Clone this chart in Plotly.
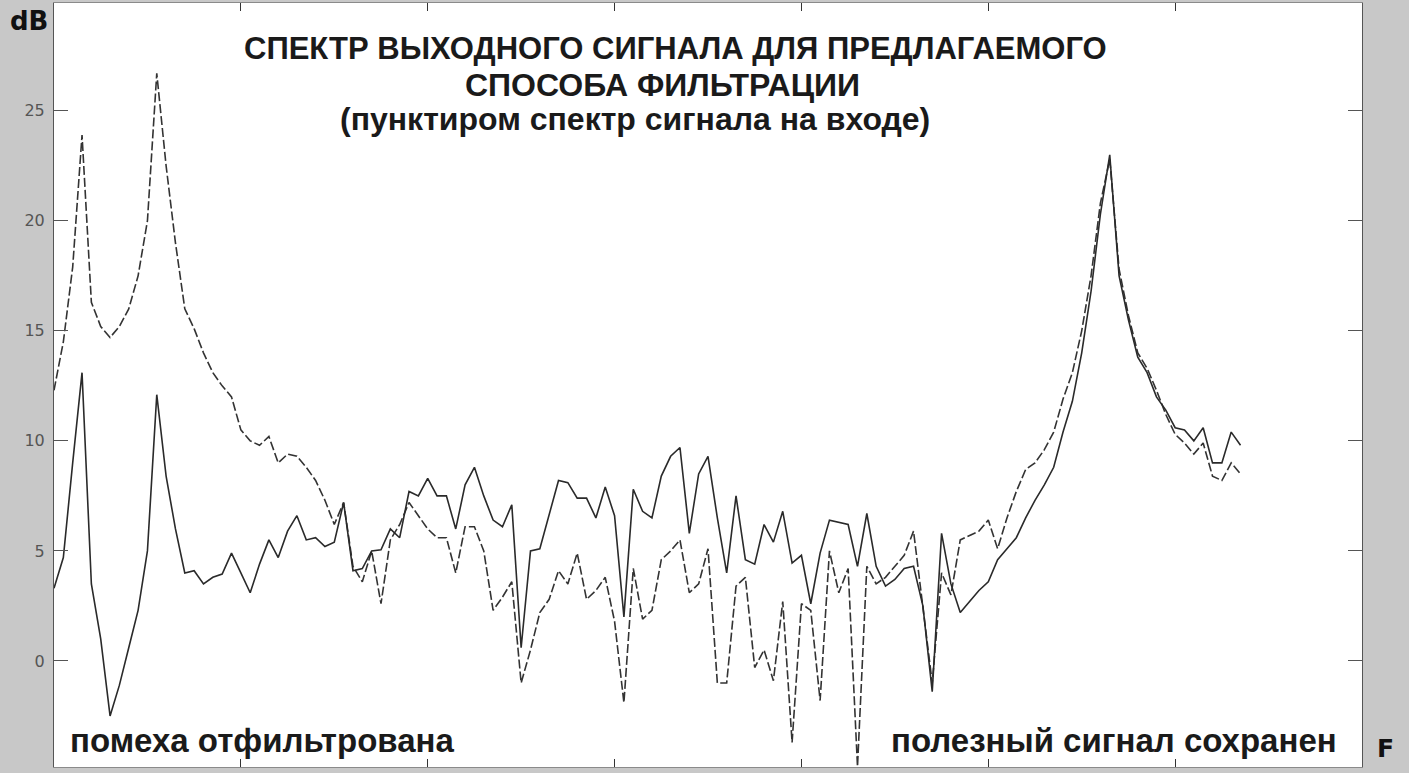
import plotly.graph_objects as go

# frequency bin index (spectrum samples)
freq_bin = list(range(128))

# output spectrum (solid), dB
out_db = [3.3, 4.7, 9.0, 13.1, 3.5, 1.0, -2.5, -1.1, 0.6, 2.3,
          5.0, 12.1, 8.4, 6.0, 4.0, 4.1, 3.5, 3.8, 3.95, 4.9,
          4.0, 3.1, 4.4, 5.5, 4.7, 5.9, 6.6, 5.5, 5.6, 5.2,
          5.4, 7.2, 4.1, 4.2, 5.0, 5.05, 6.0, 5.6, 7.7, 7.5,
          8.3, 7.5, 7.5, 6.0, 8.0, 8.8, 7.5, 6.4, 6.1, 7.1,
          0.6, 5.0, 5.1, 6.6, 8.2, 8.1, 7.4, 7.4, 6.5, 7.9,
          6.6, 2.0, 7.8, 6.8, 6.5, 8.4, 9.3, 9.7, 5.8, 8.5,
          9.3, 6.5, 4.0, 7.5, 4.6, 4.4, 6.2, 5.4, 6.8, 4.45,
          4.8, 2.6, 4.9, 6.4, 6.3, 6.2, 4.3, 6.7, 4.3, 3.4,
          3.7, 4.2, 4.3, 2.5, -1.4, 5.8, 3.5, 2.2, 2.7, 3.2,
          3.6, 4.6, 5.1, 5.6, 6.5, 7.3, 8.0, 8.8, 10.4, 11.8,
          14.0, 16.8, 20.3, 23.0, 17.5, 15.5, 13.8, 13.1, 12.0, 11.4,
          10.6, 10.5, 10.0, 10.6, 9.0, 9.0, 10.4, 9.8]

# input spectrum (dashed), dB
in_db = [12.3, 14.5, 17.9, 23.9, 16.3, 15.2, 14.7, 15.2, 16.0, 17.5,
         20.0, 26.7, 22.5, 19.0, 16.0, 15.1, 14.0, 13.1, 12.5, 12.0,
         10.5, 10.0, 9.8, 10.2, 9.0, 9.4, 9.3, 8.8, 8.2, 7.3,
         6.2, 7.2, 4.3, 3.6, 5.0, 2.6, 5.5, 6.2, 7.2, 6.6,
         6.0, 5.6, 5.6, 4.0, 6.1, 6.1, 5.0, 2.3, 2.9, 3.6,
         -1.0, 0.5, 2.2, 2.8, 4.1, 3.5, 4.9, 2.8, 3.2, 3.8,
         1.8, -1.9, 4.2, 1.9, 2.3, 4.6, 5.0, 5.5, 3.1, 3.5,
         5.1, -1.0, -1.0, 3.4, 3.8, -0.3, 0.5, -0.9, 2.7, -3.7,
         2.6, 2.3, -1.8, 5.0, 3.1, 4.2, -4.8, 4.3, 3.5, 3.8,
         4.3, 4.8, 5.9, 2.5, -1.0, 4.0, 3.0, 5.5, 5.7, 5.9,
         6.4, 5.1, 6.5, 7.7, 8.7, 9.0, 9.6, 10.4, 11.9, 13.1,
         15.0, 17.5, 20.8, 22.8, 17.8, 15.7, 14.0, 13.3, 12.3, 11.2,
         10.3, 9.9, 9.4, 9.9, 8.4, 8.2, 9.0, 8.5]

y_ticks = [0, 5, 10, 15, 20, 25]
x_ticks = [0, 20, 40, 60, 80, 100, 120, 140]

title_lines = ["СПЕКТР ВЫХОДНОГО СИГНАЛА ДЛЯ ПРЕДЛАГАЕМОГО",
               "СПОСОБА ФИЛЬТРАЦИИ",
               "(пунктиром спектр сигнала на входе)"]
note_left = "помеха отфильтрована"
note_right = "полезный сигнал сохранен"

W, H = 1409, 773
L, R, T, B = 54, 47, 3, 6
PW, PH = W - L - R, H - T - B


def px(x):
    return (x - L) / PW


def py(y):
    return (H - B - y) / PH


fig = go.Figure()
fig.add_trace(go.Scatter(x=freq_bin, y=in_db, mode="lines",
                         line=dict(color="#333333", width=1.6, dash="9px,3px"),
                         showlegend=False, hoverinfo="skip"))
fig.add_trace(go.Scatter(x=freq_bin, y=out_db, mode="lines",
                         line=dict(color="#2a2a2a", width=1.6),
                         showlegend=False, hoverinfo="skip"))

note_font = dict(family="Liberation Sans, Arial", size=33, color="#1a1a1a", weight="bold")

ann = []
for txt, cx, cy, fs in zip(title_lines, [675, 662, 635], [49, 85, 119], [31, 32, 32]):
    ann.append(dict(text=txt, x=px(cx), y=py(cy), xref="paper", yref="paper",
                    xanchor="center", yanchor="middle", showarrow=False,
                    font=dict(family="Liberation Sans, Arial", size=fs,
                              color="#1a1a1a", weight="bold")))
ann.append(dict(text=note_left, x=px(262), y=py(740), xref="paper", yref="paper",
                xanchor="center", yanchor="middle", showarrow=False, font=note_font))
ann.append(dict(text=note_right, x=px(1114), y=py(740), xref="paper", yref="paper",
                xanchor="center", yanchor="middle", showarrow=False, font=note_font))
ann.append(dict(text="dB", x=px(29), y=py(21), xref="paper", yref="paper",
                xanchor="center", yanchor="middle", showarrow=False,
                font=dict(family="DejaVu Sans", size=26, color="#111", weight="bold")))
ann.append(dict(text="F", x=px(1386), y=py(748), xref="paper", yref="paper",
                xanchor="center", yanchor="middle", showarrow=False,
                font=dict(family="DejaVu Sans", size=25, color="#111", weight="bold")))

fig.update_layout(
    width=W, height=H,
    margin=dict(l=L, r=R, t=T, b=B, pad=0, autoexpand=False),
    paper_bgcolor="#c8c8c8", plot_bgcolor="#ffffff",
    annotations=ann,
    xaxis=dict(range=[0, 140], tickvals=x_ticks, showticklabels=False,
               ticks="inside", ticklen=8, tickcolor="#333", tickwidth=1,
               showline=True, linecolor="#8a8a8a", linewidth=1, mirror="ticks",
               showgrid=False, zeroline=False, fixedrange=True, automargin=False),
    yaxis=dict(range=[-4.82, 29.9], tickvals=y_ticks,
               ticks="inside", ticklen=14, tickcolor="#555", tickwidth=1,
               tickfont=dict(family="DejaVu Sans", size=16, color="#555"),
               ticklabelstandoff=5,
               showline=True, linecolor="#555", linewidth=1, mirror="ticks",
               showgrid=False, zeroline=False, fixedrange=True, automargin=False),
)

fig.write_html("out.html", config={"displayModeBar": False},
               post_script="document.body.style.margin='0';document.body.style.background='#c8c8c8';")
